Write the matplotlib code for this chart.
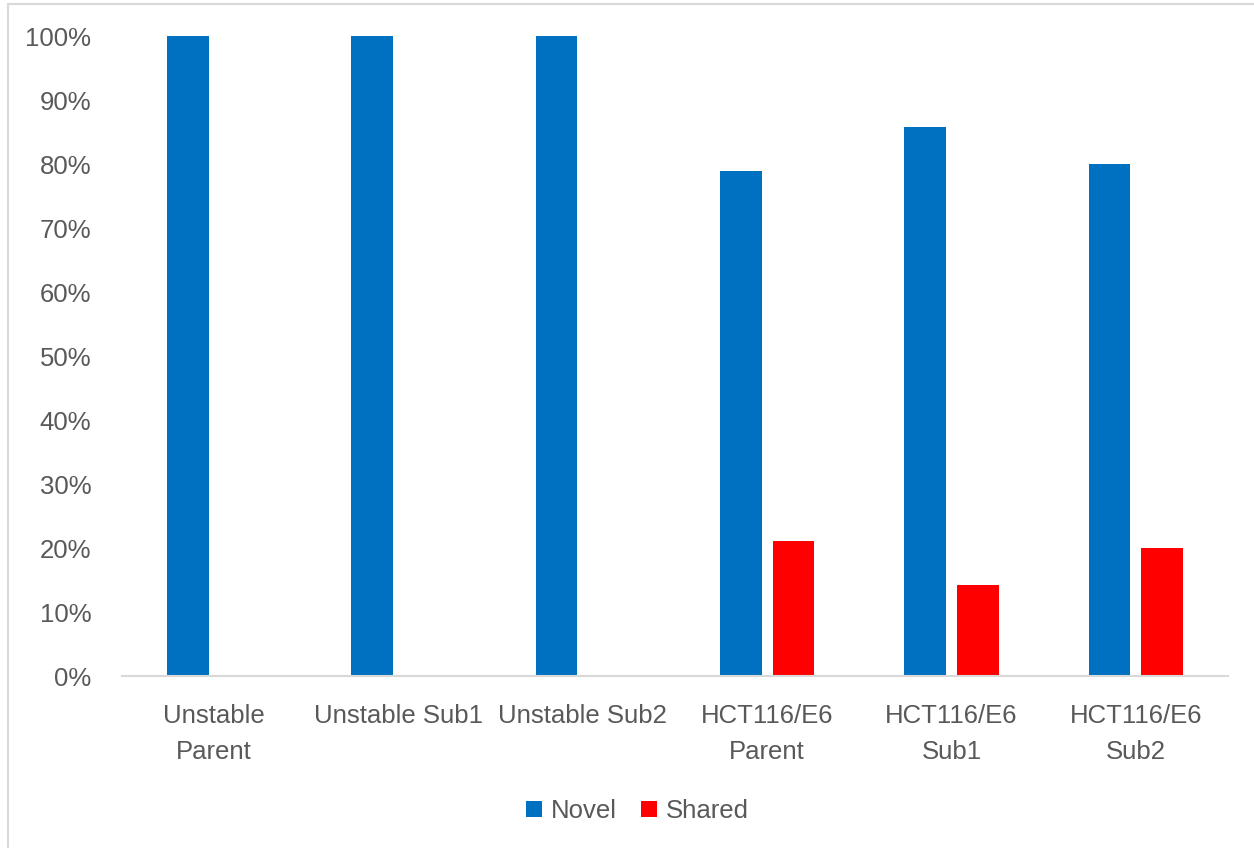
import matplotlib
matplotlib.use("Agg")
import matplotlib.pyplot as plt
from matplotlib.patches import Rectangle
from matplotlib.ticker import PercentFormatter
import numpy as np

categories = ["Unstable\nParent", "Unstable Sub1", "Unstable Sub2",
              "HCT116/E6\nParent", "HCT116/E6\nSub1", "HCT116/E6\nSub2"]
novel = [1.0, 1.0, 1.0, 15/19, 6/7, 0.80]
shared = [0.0, 0.0, 0.0, 4/19, 1/7, 0.20]
series_names = ["Novel", "Shared"]

BLUE = "#0070C0"
RED = "#FF0000"
TEXT = "#595959"
LINE = "#D9D9D9"
FS = 18.5

plt.rcParams["font.family"] = ["Liberation Sans", "DejaVu Sans"]

fig = plt.figure(figsize=(12.54, 8.48), dpi=100)
fig.patch.set_facecolor("white")

# chart-area frame
fig.patches.append(Rectangle((8/1254, -0.1), 1.2, 1 - 4/848 + 0.1,
                             transform=fig.transFigure, fill=False,
                             edgecolor=LINE, linewidth=1.5))

ax = fig.add_axes([122/1254, 1 - 676/848, (1228 - 122)/1254, (676 - 36)/848])

x = np.arange(len(categories))
w = 0.225
off = 0.143
ax.bar(x - off, novel, width=w, color=BLUE, label=series_names[0])
ax.bar(x + off, shared, width=w, color=RED, label=series_names[1])

ax.set_xlim(-0.5, len(categories) - 0.5)
ax.set_ylim(0, 1.0)
ax.set_yticks(np.arange(0, 1.01, 0.1))
ax.yaxis.set_major_formatter(PercentFormatter(1.0, decimals=0))
ax.set_xticks(x)
ax.set_xticklabels(categories, linespacing=1.65)

for s in ["top", "right", "left"]:
    ax.spines[s].set_visible(False)
ax.spines["bottom"].set_color(LINE)
ax.spines["bottom"].set_linewidth(1.5)

ax.tick_params(axis="y", length=0, pad=22, labelsize=FS, labelcolor=TEXT)
ax.tick_params(axis="x", length=0, pad=20, labelsize=FS, labelcolor=TEXT)

handles, labels = ax.get_legend_handles_labels()
fig.legend(handles, labels, loc="center", bbox_to_anchor=(637.5/1254, 1 - 811/848),
           ncol=2, frameon=False, fontsize=FS, labelcolor=TEXT,
           handlelength=0.62, handleheight=0.62, handletextpad=0.35,
           columnspacing=0.93, borderpad=0)

fig.savefig("out.png", dpi=100, facecolor="white")
